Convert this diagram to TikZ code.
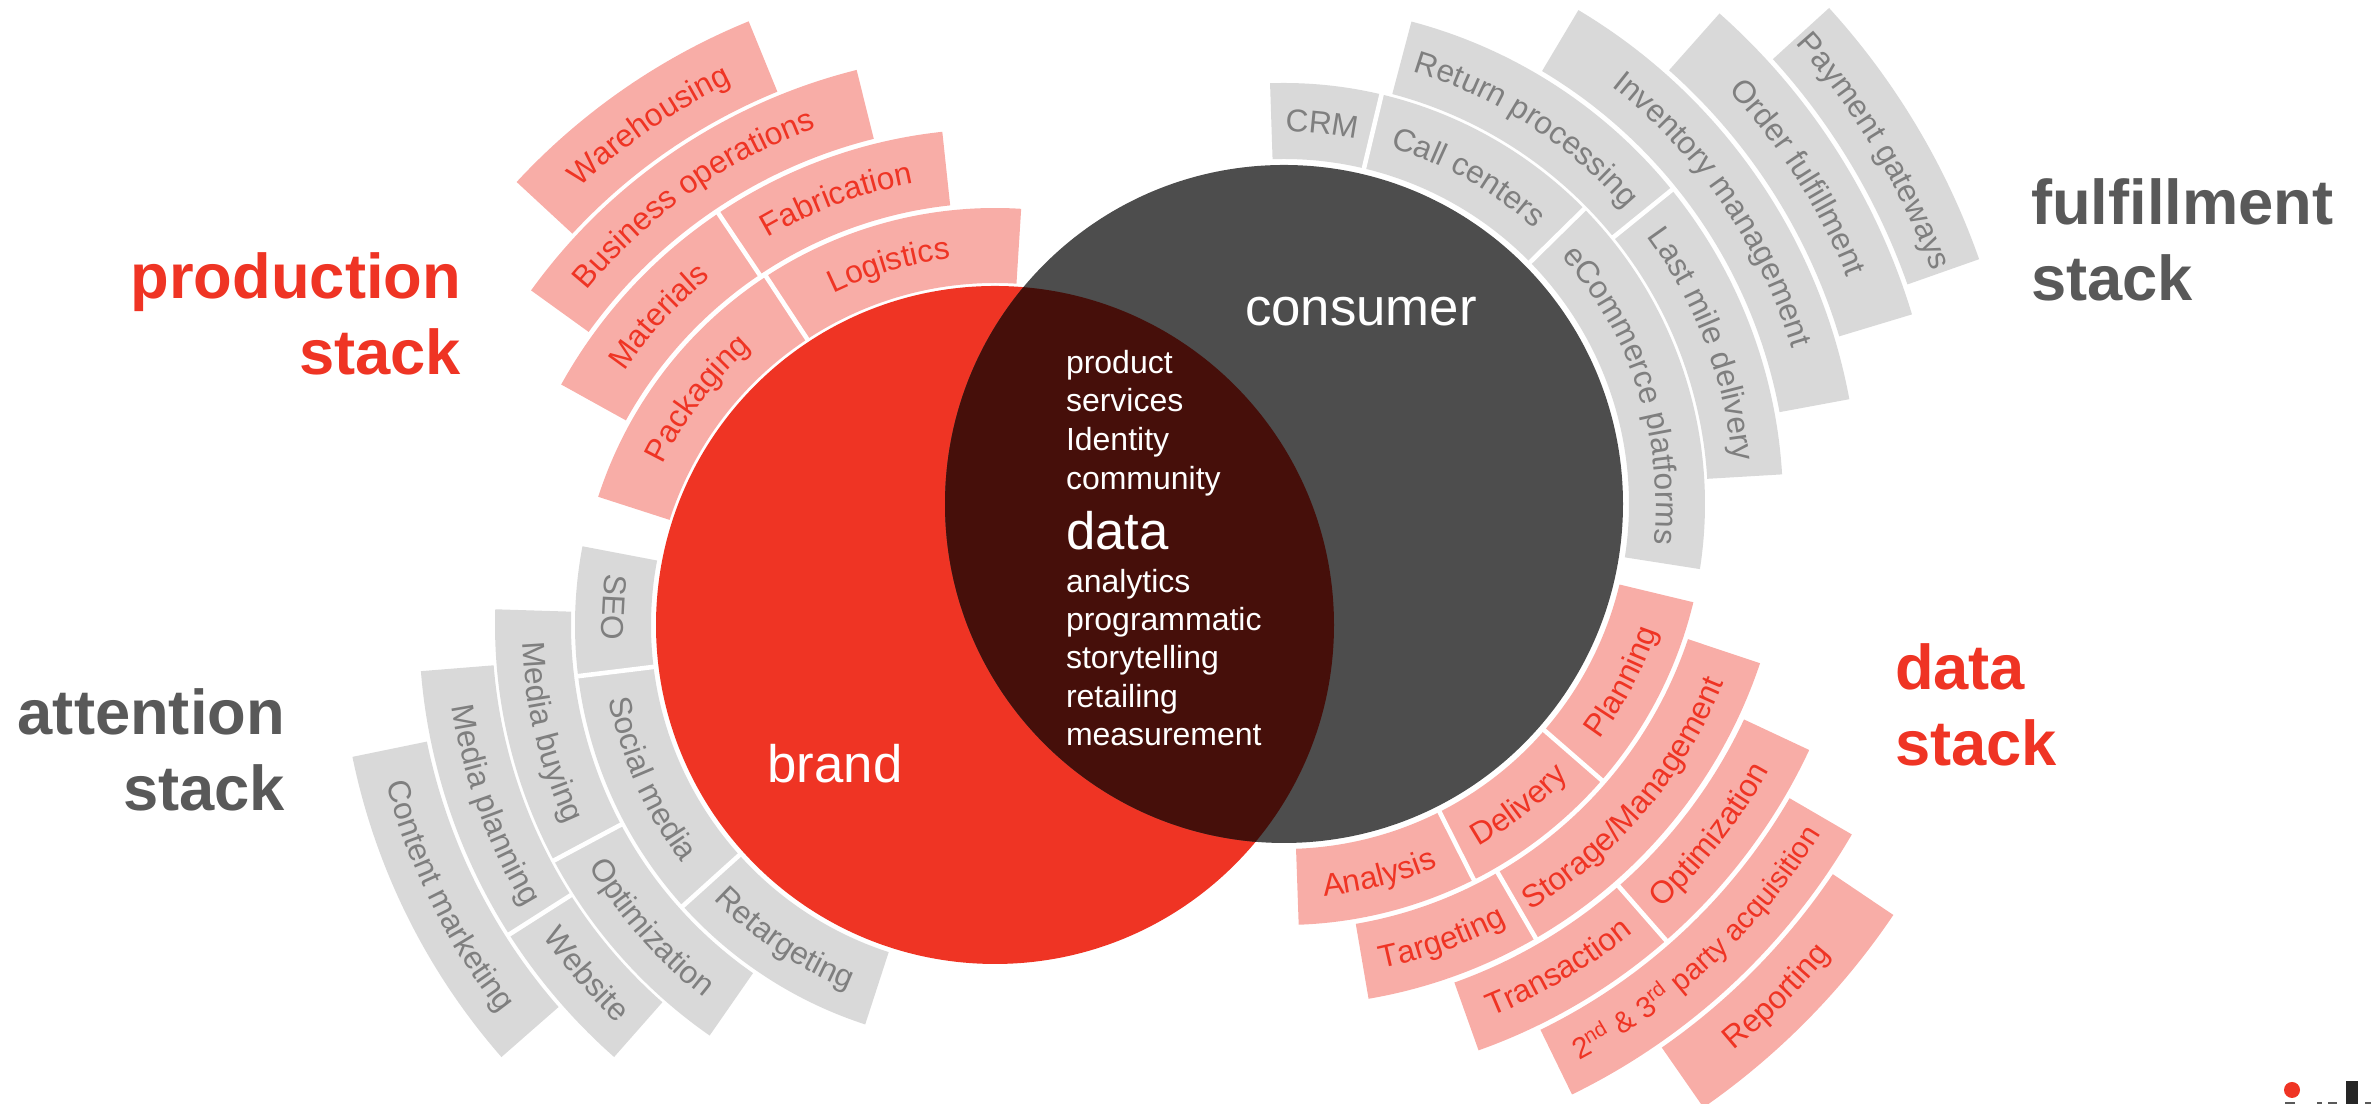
\documentclass[tikz,border=0pt]{standalone}
\usepackage{fontspec}
\setmainfont{Liberation Sans}
\usetikzlibrary{decorations.text}

\definecolor{stackred}{HTML}{EF3424}
\definecolor{stackpink}{HTML}{F8ADA7}
\definecolor{stackgrey}{HTML}{D9D9D9}
\definecolor{inkgrey}{HTML}{7F7F7F}
\definecolor{titlegrey}{HTML}{595959}
\definecolor{coredark}{HTML}{4D4D4D}
\definecolor{overlapdark}{HTML}{460F0A}

\newcommand{\cellfont}{\fontsize{9pt}{10pt}\selectfont}
\newcommand{\smallcell}{\fontsize{8.4pt}{10pt}\selectfont\color{\cellink}}
\newcommand{\stackcell}[6][0]{%
  \fill[shift={(\cellcenter)}, \cellfill]
    (#4:#2) arc[start angle=#4, end angle=#5, radius=#2]
    -- (#5:#3) arc[start angle=#5, end angle=#4, radius=#3] -- cycle;
  \pgfmathsetmacro{\cellbase}{#4>#5 ? #2+27 : #3-27}
  \path[shift={(\cellcenter)}, rotate=#1, decorate, decoration={text along path, text align=center,
      text={|\cellfont\color{\cellink}|#6}}]
    (#4:\cellbase) arc[start angle=#4, end angle=#5, radius=\cellbase];
}
\newcommand{\cellgap}[3]{\draw[gapline, shift={(\cellcenter)}] (#1:#2) -- (#1:#3);}

\begin{document}
\begin{tikzpicture}[x=0.01cm, y=0.01cm,
    every node/.style={inner sep=0, outer sep=0},
    gapline/.style={white, line width=1.3pt},
    stacktitle/.style={font=\fontsize{18pt}{21.5pt}\selectfont\bfseries},
    bigword/.style={white, font=\fontsize{15pt}{18pt}\selectfont},
    coretext/.style={white, align=left, font=\fontsize{9.1pt}{10.9pt}\selectfont}]
  \useasboundingbox (0,0) rectangle (2371,1104);

  \coordinate (B) at (995,479);
  \coordinate (C) at (1284,600);

  \fill[stackred] (B) circle[radius=339];
  \fill[coredark] (C) circle[radius=339];
  \begin{scope}
    \clip (C) circle[radius=339];
    \fill[overlapdark] (B) circle[radius=339];
  \end{scope}

  \def\cellcenter{B}\def\cellfill{stackpink}\def\cellink{stackred}
  \stackcell{342}{417}{162.1}{123.3}{Packaging}
  \stackcell[1.6]{342}{417}{123.3}{86.4}{Logistics}
  \cellgap{123.3}{340}{419}
  \stackcell{422}{496}{151}{123.9}{Materials}
  \stackcell[0.4]{422}{496}{123.9}{96.1}{Fabrication}
  \cellgap{123.9}{420}{498}
  \stackcell[1.1]{501}{572}{144.2}{104}{Business operations}
  \stackcell{576}{652}{137.2}{112.2}{Warehousing}

  \def\cellfill{stackgrey}\def\cellink{inkgrey}
  \stackcell[-0.7]{344}{420}{169.2}{187}{SEO}
  \stackcell[-0.4]{344}{420}{187}{222}{Social media}
  \stackcell[-0.8]{344}{420}{222}{252}{Retargeting}
  \cellgap{187}{342}{422}
  \cellgap{222}{342}{422}
  \stackcell[0.4]{424}{500}{178.2}{208.1}{Media buying}
  \stackcell[-0.3]{424}{500}{208.1}{235.2}{Optimization}
  \cellgap{208.1}{422}{502}
  \stackcell[1.2]{503}{576}{184.6}{212.5}{Media planning}
  \stackcell{503}{576}{212.5}{228.6}{Website}
  \cellgap{212.5}{501}{578}
  \stackcell{580}{656}{191.6}{221.2}{Content marketing}

  \def\cellcenter{C}
  \stackcell{345}{421}{91.9}{76.6}{CRM}
  \stackcell{345}{421}{76.6}{44.5}{Call centers}
  \stackcell{345}{421}{44.5}{-8.9}{eCommerce platforms}
  \cellgap{76.6}{343}{423}
  \cellgap{44.5}{343}{423}
  \stackcell{424}{499}{75.2}{39}{Return processing}
  \stackcell[-0.3]{424}{499}{39}{3.4}{Last mile delivery}
  \cellgap{39}{422}{501}
  \stackcell[-0.4]{504}{575}{59.2}{10.5}{Inventory management}
  \stackcell[-0.2]{580}{656}{48.4}{16.8}{Order fulfillment}
  \stackcell{661}{737}{42.3}{19.4}{Payment gateways}

  \def\cellfill{stackpink}\def\cellink{stackred}
  \stackcell{345}{421}{-88}{-63.2}{Analysis}
  \stackcell{345}{421}{-63.2}{-41}{Delivery}
  \stackcell[-0.5]{345}{421}{-41}{-13.5}{Planning}
  \cellgap{-63.2}{343}{423}
  \cellgap{-41}{343}{423}
  \stackcell{426}{502}{-80.3}{-59.9}{Targeting}
  \stackcell[-1.2]{426}{502}{-59.9}{-18.5}{Storage/Management}
  \cellgap{-59.9}{424}{504}
  \stackcell[0.2]{508}{580}{-70.4}{-48.8}{Transaction}
  \stackcell[-0.9]{508}{580}{-48.8}{-25.1}{Optimization}
  \cellgap{-48.8}{506}{582}
  \stackcell[0.3]{585}{657}{-64}{-30.2}{|\smallcell|2{\textsuperscript{nd}} {\&} 3{\textsuperscript{rd}} party acquisition}
  \stackcell[-0.4]{662}{735}{-55.2}{-34}{Reporting}

  \node[bigword] (consumer) at (1361,792) {consumer};
  \node[bigword] (brand) at (835,340) {brand};

  \node[coretext, anchor=north west, font=\fontsize{9.1pt}{11pt}\selectfont] (shared) at (1066,754)
    {product\\services\\Identity\\community};
  \node[bigword, anchor=north west] (datacore) at (1066,593) {data};
  \node[coretext, anchor=north west] (skills) at (1066,535)
    {analytics\\programmatic\\storytelling\\retailing\\measurement};

  \node[stacktitle, stackred, align=right, anchor=north east] (prodT) at (461,851)
    {production\\stack};
  \node[stacktitle, titlegrey, align=right, anchor=north east] (attnT) at (285,415)
    {attention\\stack};
  \node[stacktitle, titlegrey, align=left, anchor=north west] (fulT) at (2031,925)
    {fulfillment\\stack};
  \node[stacktitle, stackred, align=left, anchor=north west] (dataT) at (1895,460)
    {data\\stack};

  \fill[stackred] (2292,14) circle[radius=8];
  \fill[black!85] (2346,0) rectangle (2358,23);
  \fill[titlegrey] (2285,0) rectangle (2295,2);
  \fill[titlegrey] (2317,0) rectangle (2322,2);
  \fill[titlegrey] (2328,0) rectangle (2337,2);
  \fill[titlegrey] (2365,0) rectangle (2371,2);
\end{tikzpicture}
\end{document}
